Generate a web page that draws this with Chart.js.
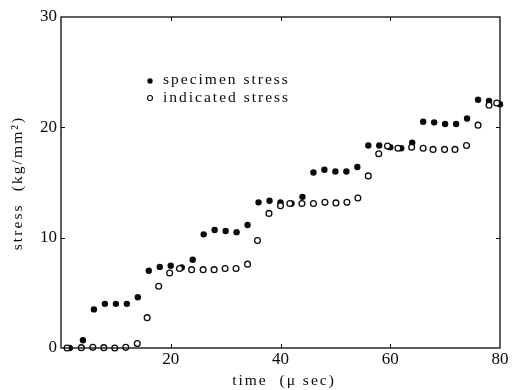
<!DOCTYPE html>
<html>
<head>
<meta charset="utf-8">
<script src="https://cdn.jsdelivr.net/npm/chart.js@4/dist/chart.umd.min.js"></script>
<style>
html,body{margin:0;padding:0;background:#fff;}
#wrap{width:514px;height:390px;}
</style>
</head>
<body>
<div id="wrap"><canvas id="c" width="514" height="390"></canvas></div>
<script>
// time (μsec) and stress (kg/mm²)
const specimenTime = [1.6, 4, 6, 8, 10, 12, 14, 16, 18, 20, 22, 24, 26, 28, 30, 32, 34, 36, 38, 40, 42, 44, 46, 48, 50, 52, 54, 56, 58, 60, 62, 64, 66, 68, 70, 72, 74, 76, 78, 80];
const specimenStress = [0, 0.7, 3.5, 4.0, 4.0, 4.0, 4.6, 7.0, 7.35, 7.45, 7.3, 8.0, 10.3, 10.7, 10.6, 10.5, 11.15, 13.2, 13.35, 13.2, 13.1, 13.7, 15.9, 16.15, 16.0, 16.0, 16.4, 18.36, 18.36, 18.2, 18.1, 18.6, 20.5, 20.45, 20.3, 20.3, 20.8, 22.5, 22.4, 22.1];
const indicatedTime = [1.1, 3.7, 5.8, 7.8, 9.8, 11.8, 13.9, 15.7, 17.8, 19.8, 21.6, 23.8, 25.9, 27.9, 29.9, 31.9, 34.0, 35.8, 37.9, 40.0, 41.7, 43.9, 46.0, 48.1, 50.1, 52.1, 54.1, 56.0, 57.9, 59.5, 61.4, 63.9, 66.0, 67.8, 69.9, 71.8, 73.9, 76.0, 78.0, 79.4];
const indicatedStress = [0, 0.03, 0.06, 0.03, 0, 0.06, 0.4, 2.75, 5.6, 6.8, 7.2, 7.1, 7.1, 7.1, 7.2, 7.2, 7.6, 9.75, 12.2, 12.9, 13.1, 13.1, 13.1, 13.2, 13.15, 13.2, 13.6, 15.6, 17.6, 18.3, 18.1, 18.2, 18.1, 18.0, 18.0, 18.0, 18.36, 20.2, 22.0, 22.2];
const xTicks = [0, 20, 40, 60, 80];
const yTicks = [0, 10, 20, 30];
const seriesNames = ['specimen stress', 'indicated stress'];
const xTitle = 'time  (μ sec)';
const yTitle = 'stress  (kg/mm²)';

const toPts = (xs, ys) => xs.map((x, i) => ({x: x, y: ys[i]}));
const INK = '#0a0a0a';
const SERIF = '"Liberation Serif", "DejaVu Serif", serif';

const framePlugin = {
  id: 'frame',
  afterDatasetsDraw(chart) {
    const ctx = chart.ctx, a = chart.chartArea;
    const xs = chart.scales.x, ys = chart.scales.y;
    ctx.save();
    ctx.strokeStyle = INK;
    ctx.lineWidth = 1.3;
    ctx.strokeRect(a.left, a.top, a.right - a.left, a.bottom - a.top);
    ctx.lineWidth = 1;
    const tl = 4;
    ctx.beginPath();
    xTicks.forEach(v => {
      if (v === xs.min || v === xs.max) return;
      const px = Math.round(xs.getPixelForValue(v)) + 0.5;
      ctx.moveTo(px, a.bottom); ctx.lineTo(px, a.bottom - tl);
      ctx.moveTo(px, a.top); ctx.lineTo(px, a.top + tl);
    });
    yTicks.forEach(v => {
      if (v === ys.min || v === ys.max) return;
      const py = Math.round(ys.getPixelForValue(v)) + 0.5;
      ctx.moveTo(a.left, py); ctx.lineTo(a.left + tl, py);
      ctx.moveTo(a.right, py); ctx.lineTo(a.right - tl, py);
    });
    ctx.stroke();

    // legend
    ctx.fillStyle = INK;
    ctx.font = '15.5px ' + SERIF;
    ctx.textBaseline = 'middle';
    ctx.textAlign = 'left';
    try { ctx.letterSpacing = '2px'; } catch (e) {}
    const lx = 150, ly = [80, 98];
    ctx.beginPath(); ctx.arc(lx, ly[0] + 1, 2.7, 0, Math.PI * 2); ctx.fill();
    ctx.beginPath(); ctx.arc(lx, ly[1], 2.5, 0, Math.PI * 2);
    ctx.fillStyle = '#fff'; ctx.fill(); ctx.strokeStyle = INK; ctx.lineWidth = 1.1; ctx.stroke();
    ctx.fillStyle = INK;
    ctx.fillText(seriesNames[0], 163, ly[0]);
    ctx.fillText(seriesNames[1], 163, ly[1]);

    // axis titles
    try { ctx.letterSpacing = '2px'; } catch (e) {}
    ctx.textAlign = 'center';
    ctx.fillText(xTitle, 284, 381);
    ctx.save();
    ctx.translate(18, 183);
    ctx.rotate(-Math.PI / 2);
    try { ctx.letterSpacing = '2.1px'; } catch (e) {}
    ctx.fillText(yTitle, 0, 0);
    ctx.restore();
    ctx.restore();
  }
};

new Chart(document.getElementById('c'), {
  type: 'scatter',
  data: {
    datasets: [
      {
        label: seriesNames[1],
        data: toPts(indicatedTime, indicatedStress),
        pointStyle: 'circle',
        pointRadius: 2.9,
        pointBackgroundColor: '#fff',
        pointBorderColor: INK,
        pointBorderWidth: 1.3,
        clip: false
      },
      {
        label: seriesNames[0],
        data: toPts(specimenTime, specimenStress),
        pointStyle: 'circle',
        pointRadius: 3.2,
        pointBackgroundColor: INK,
        pointBorderColor: INK,
        pointBorderWidth: 0,
        clip: false
      }
    ]
  },
  options: {
    responsive: false,
    animation: false,
    events: [],
    layout: { padding: { left: 0, right: 14, top: 17, bottom: 0 } },
    plugins: { legend: { display: false }, tooltip: { enabled: false } },
    scales: {
      x: {
        type: 'linear', min: 0, max: 80,
        afterFit: s => { s.height = 42; },
        afterBuildTicks: s => { s.ticks = xTicks.map(v => ({value: v})); },
        grid: { display: false, drawTicks: false },
        border: { display: false },
        ticks: {
          padding: 1,
          color: INK,
          font: { family: SERIF, size: 17 },
          callback: v => (v === 0 ? '' : String(v))
        }
      },
      y: {
        type: 'linear', min: 0, max: 30,
        afterFit: s => { s.width = 61; },
        afterBuildTicks: s => { s.ticks = yTicks.map(v => ({value: v})); },
        grid: { display: false, drawTicks: false },
        border: { display: false },
        ticks: {
          padding: 4,
          color: INK,
          font: { family: SERIF, size: 17 },
          callback: v => String(v)
        }
      }
    }
  },
  plugins: [framePlugin]
});
</script>
</body>
</html>
